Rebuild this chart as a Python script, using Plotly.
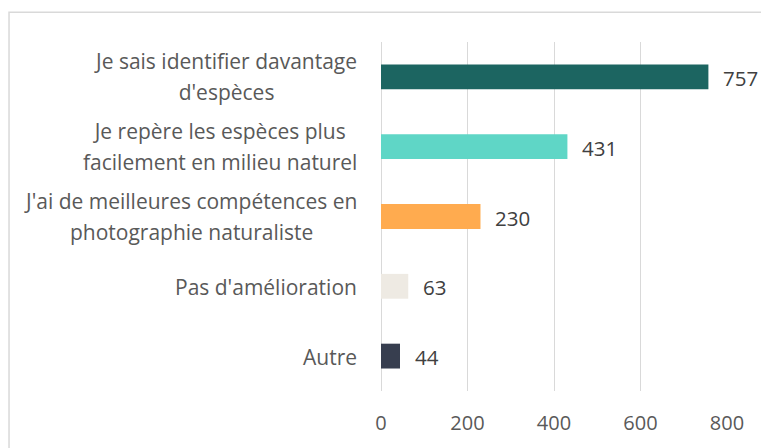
import plotly.graph_objects as go

categories = [
    "Je sais identifier davantage<br>d'espèces",
    "Je repère les espèces plus<br>facilement en milieu naturel",
    "J'ai de meilleures compétences en<br>photographie naturaliste",
    "Pas d'amélioration",
    "Autre",
]
values = [757, 431, 230, 63, 44]
colors = ["#1C6561", "#5FD6C6", "#FFAB4F", "#EEEAE3", "#373E4F"]
tick_values = [0, 200, 400, 600, 800]

FONT = "Open Sans"
LABEL_SIZE = 21
LINE_BASE = 24  # base size controlling line spacing (1.3em)
ids = list(range(len(categories)))

fig = go.Figure()
fig.add_trace(go.Bar(
    x=values, y=ids, orientation="h",
    marker=dict(color=colors, line=dict(width=0)),
    width=0.356, hoverinfo="skip",
))

annotations = []
for i, (c, v) in enumerate(zip(categories, values)):
    lines = c.split("<br>")
    txt = "<br>".join("<span style='font-size:%spx'>%s</span>" % (LABEL_SIZE, ln) for ln in lines)
    annotations.append(dict(
        x=0, y=i, xref="x", yref="y", text=txt, showarrow=False,
        xanchor="right", yanchor="middle", align="center", xshift=-22,
        yshift=0 if len(lines) > 1 else -1,
        font=dict(family=FONT, size=LINE_BASE if len(lines) > 1 else LABEL_SIZE,
                  color="#595959"),
    ))
    annotations.append(dict(
        x=v, y=i, xref="x", yref="y", text=str(v), showarrow=False,
        xanchor="left", yanchor="middle", xshift=13, yshift=-1,
        font=dict(family=FONT, size=20.5, color="#404040"),
    ))

fig.update_layout(
    width=761, height=448,
    margin=dict(l=380.5, r=34, t=42, b=55),
    paper_bgcolor="white", plot_bgcolor="white",
    showlegend=False,
    annotations=annotations,
    xaxis=dict(
        range=[0, 800], tickvals=tick_values,
        showgrid=True, gridcolor="#D9D9D9", gridwidth=1.3,
        zeroline=True, zerolinecolor="#D9D9D9", zerolinewidth=1.3,
        showline=False, ticks="",
        ticklabelstandoff=18,
        tickfont=dict(family=FONT, size=20, color="#595959"),
    ),
    yaxis=dict(
        range=[4.5, -0.5], showticklabels=False, showgrid=False,
        zeroline=False, showline=False, ticks="",
    ),
    shapes=[dict(
        type="rect", xref="paper", yref="paper",
        x0=(8 - 380.5) / 346.5, x1=1.3, y0=-0.4, y1=(393 - 12) / 351,
        line=dict(color="#D9D9D9", width=1.5), fillcolor="rgba(0,0,0,0)",
        layer="below",
    )],
)

fig.write_html(
    "out.html",
    config={"displayModeBar": False},
    post_script="document.body.style.margin='0';document.body.style.overflow='hidden';",
)
